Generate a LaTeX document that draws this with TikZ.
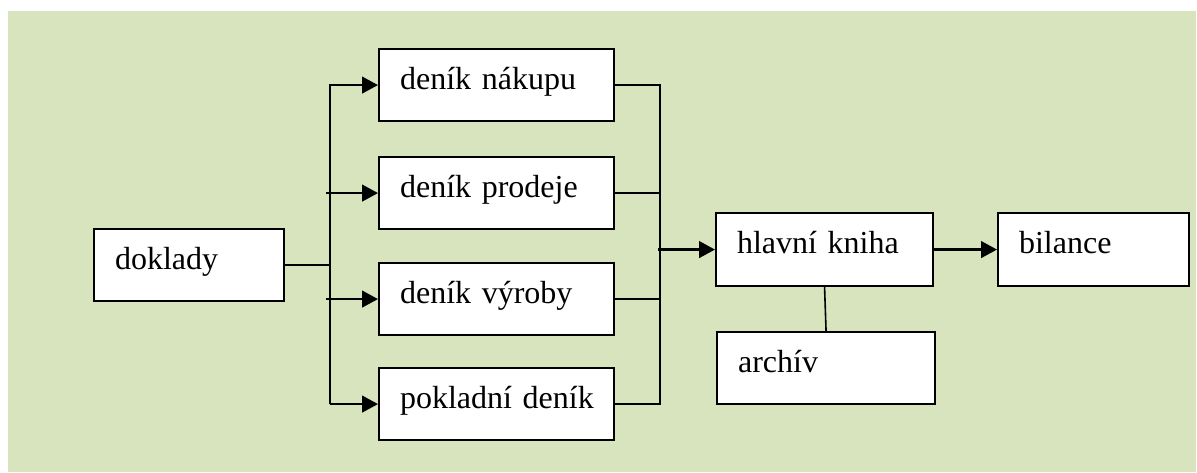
\documentclass[tikz,border=0pt]{standalone}
\usepackage{fontspec}
\setmainfont{Liberation Serif}
\usetikzlibrary{arrows.meta}
\definecolor{panel}{HTML}{D7E4BD}

\begin{document}
\begin{tikzpicture}[x=0.75pt,y=-0.75pt,
  box/.style={draw=black, fill=white, line width=1.6pt, anchor=north west,
    inner xsep=15.75pt, inner ysep=0pt, align=left, text height=30pt,
    font=\fontsize{24pt}{28pt}\selectfont},
  arr/.style={line width=1.8pt, -{Triangle[length=12pt,width=12.5pt]}},
  link/.style={line width=1.2pt}]

% page and panel
\useasboundingbox (0,0) rectangle (1197,472);
\fill[panel] (8,11) rectangle (1196,472);

% boxes (text set near the top left corner)
\node[box, text width=111pt,    text depth=24pt]    (doklady)  at (93,228)  {doklady};
\node[box, text width=144.75pt, text depth=24pt]    (nakup)    at (378,48)  {deník~nákupu};
\node[box, text width=144.75pt, text depth=24pt]    (prodej)   at (378,156) {deník~prodeje};
\node[box, text width=144.75pt, text depth=24pt]    (vyroba)   at (378,262) {deník~výroby};
\node[box, text width=144.75pt, text depth=24pt]    (pokladni) at (378,367) {pokladní~deník};
\node[box, text width=131.25pt, text depth=24.75pt] (hlavni)   at (715,212) {hlavní~kniha};
\node[box, text width=111.75pt, text depth=24.75pt] (bilance)  at (997,212) {bilance};
\node[box, text width=132pt,    text depth=24pt]    (archiv)   at (716,331) {archív};

% bus positions
\coordinate (split) at (330,0);
\coordinate (stub)  at (326,0);
\coordinate (merge) at (660,0);
\coordinate (feed)  at (658,0);

% documents fan out into the journals
\draw[link] (doklady.east) -- (doklady.east -| split);
\draw[arr] (pokladni.west -| split) |- (nakup.west);
\draw[arr] (pokladni.west -| split) -- (pokladni.west);
\draw[arr] (prodej.west -| stub) -- (prodej.west);
\draw[arr] (vyroba.west -| stub) -- (vyroba.west);

% journals collect into the general ledger
\draw[link] (nakup.east) -| (pokladni.east -| merge) -- (pokladni.east);
\draw[link] (prodej.east) -- (prodej.east -| merge);
\draw[link] (vyroba.east) -- (vyroba.east -| merge);
\draw[arr] (hlavni.west -| feed) -- (hlavni.west);

% ledger to balance sheet and archive
\draw[arr] (hlavni) -- (bilance);
\draw[link] (hlavni.south) -- (archiv.north);
\end{tikzpicture}
\end{document}
